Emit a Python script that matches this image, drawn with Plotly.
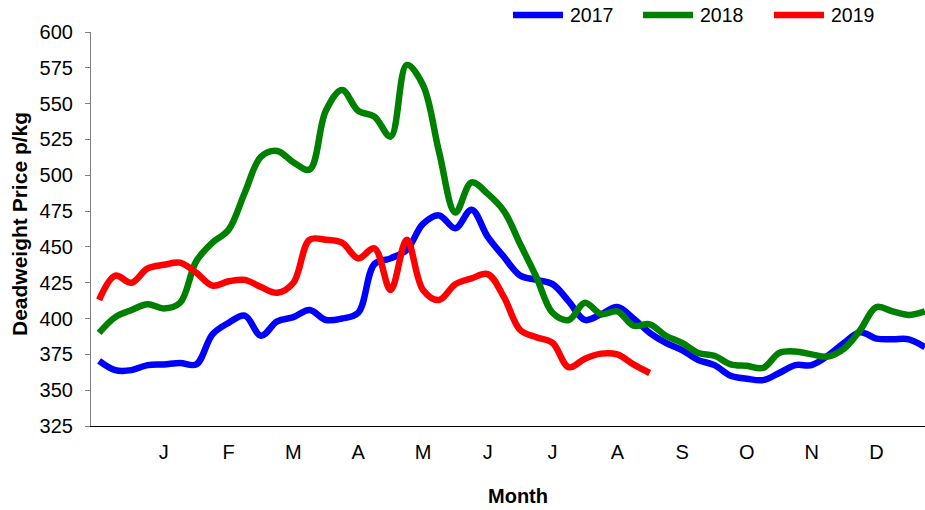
import plotly.graph_objects as go

weeks = list(range(52))
month_ticks = [4, 8, 12, 16, 20, 24, 28, 32, 36, 40, 44, 48]
month_labels = ["J", "F", "M", "A", "M", "J", "J", "A", "S", "O", "N", "D"]

price_2017 = [370.5, 364, 364, 367.5, 368, 369, 368, 389, 397, 402, 388, 398, 401, 406, 399, 400,
              404, 438, 442, 448, 466, 472, 463, 476, 457, 443, 430, 427, 424, 412, 399, 403,
              408, 400, 390, 383, 378, 371, 367.5, 360, 358, 357, 362, 367.5, 367.5, 374, 383,
              390.5, 386, 385.5, 385.5, 380]
price_2018 = [390, 401, 406, 410, 407, 411, 440, 453, 462, 488, 513, 517, 509, 504, 545, 559.5,
              545, 541, 527, 577, 563, 516, 474, 495, 487, 475, 452, 429, 404, 399, 411, 403,
              405, 395, 396, 388, 383, 376, 374, 368, 367, 365.5, 376, 377, 375, 373.5, 379,
              392, 408, 405, 402.5, 405]
price_2019 = [413, 430, 425, 435, 437.5, 439, 432, 423, 426, 427, 422, 418, 425, 455, 455, 453,
              442, 449, 420, 455, 420, 413, 424, 428, 431, 415, 392, 387, 383, 366, 372, 375.5,
              375, 368, 362]

series = [("2017", price_2017, "#0000FF"), ("2018", price_2018, "#008000"), ("2019", price_2019, "#FF0000")]

FONT = "Liberation Sans, Arial, sans-serif"

fig = go.Figure()
for name, vals, col in series:
    fig.add_trace(go.Scatter(x=weeks[:len(vals)], y=vals, mode="lines", name=name,
                             line=dict(color=col, width=6.5, shape="spline", smoothing=1.0),
                             showlegend=False))

# custom legend (long rounded samples like the original)
legend_x = [513, 643, 774]
for (name, vals, col), lx in zip(series, legend_x):
    x0 = (lx - 91) / 834
    x1 = (lx + 50 - 91) / 834
    yl = (426 - 15) / 394
    fig.add_shape(type="line", xref="paper", yref="paper", x0=x0, x1=x1, y0=yl, y1=yl,
                  line=dict(color=col, width=6.5))
    fig.add_annotation(xref="paper", yref="paper", x=(lx + 55 - 91) / 834, y=yl,
                       text=name, showarrow=False, xanchor="left", yanchor="middle",
                       font=dict(family=FONT, size=19.5, color="black"))

fig.add_annotation(xref="paper", yref="paper", x=(518 - 91) / 834, y=(426 - 496) / 394,
                   text="<b>Month</b>", showarrow=False, xanchor="center", yanchor="middle",
                   font=dict(family=FONT, size=20, color="black"))
fig.add_annotation(xref="paper", yref="paper", x=(19 - 91) / 834, y=(426 - 224) / 394,
                   text="<b>Deadweight Price p/kg</b>", showarrow=False, textangle=-90,
                   xanchor="center", yanchor="middle",
                   font=dict(family=FONT, size=21, color="black"))

fig.update_layout(
    width=925, height=510,
    margin=dict(l=91, r=0, t=32, b=84),
    paper_bgcolor="white", plot_bgcolor="white",
    font=dict(family=FONT, size=20, color="black"),
    showlegend=False,
)
fig.update_xaxes(range=[-0.5, 51], tickmode="array", tickvals=month_ticks, ticktext=month_labels,
                 showgrid=False, zeroline=False, showline=True, linecolor="black", linewidth=1.2,
                 ticks="", ticklabelstandoff=8, tickfont=dict(family=FONT, size=20, color="black"))
fig.update_yaxes(range=[325, 600], dtick=25, tick0=325, showgrid=False, zeroline=False,
                 showline=True, linecolor="#808080", linewidth=1.2,
                 ticks="outside", ticklen=5, tickcolor="#808080", tickwidth=1.2,
                 ticklabelstandoff=8, tickfont=dict(family=FONT, size=20, color="black"))

fig.write_html("out.html", config={"displayModeBar": False},
               post_script="document.body.style.margin='0';document.body.style.overflow='hidden';")
